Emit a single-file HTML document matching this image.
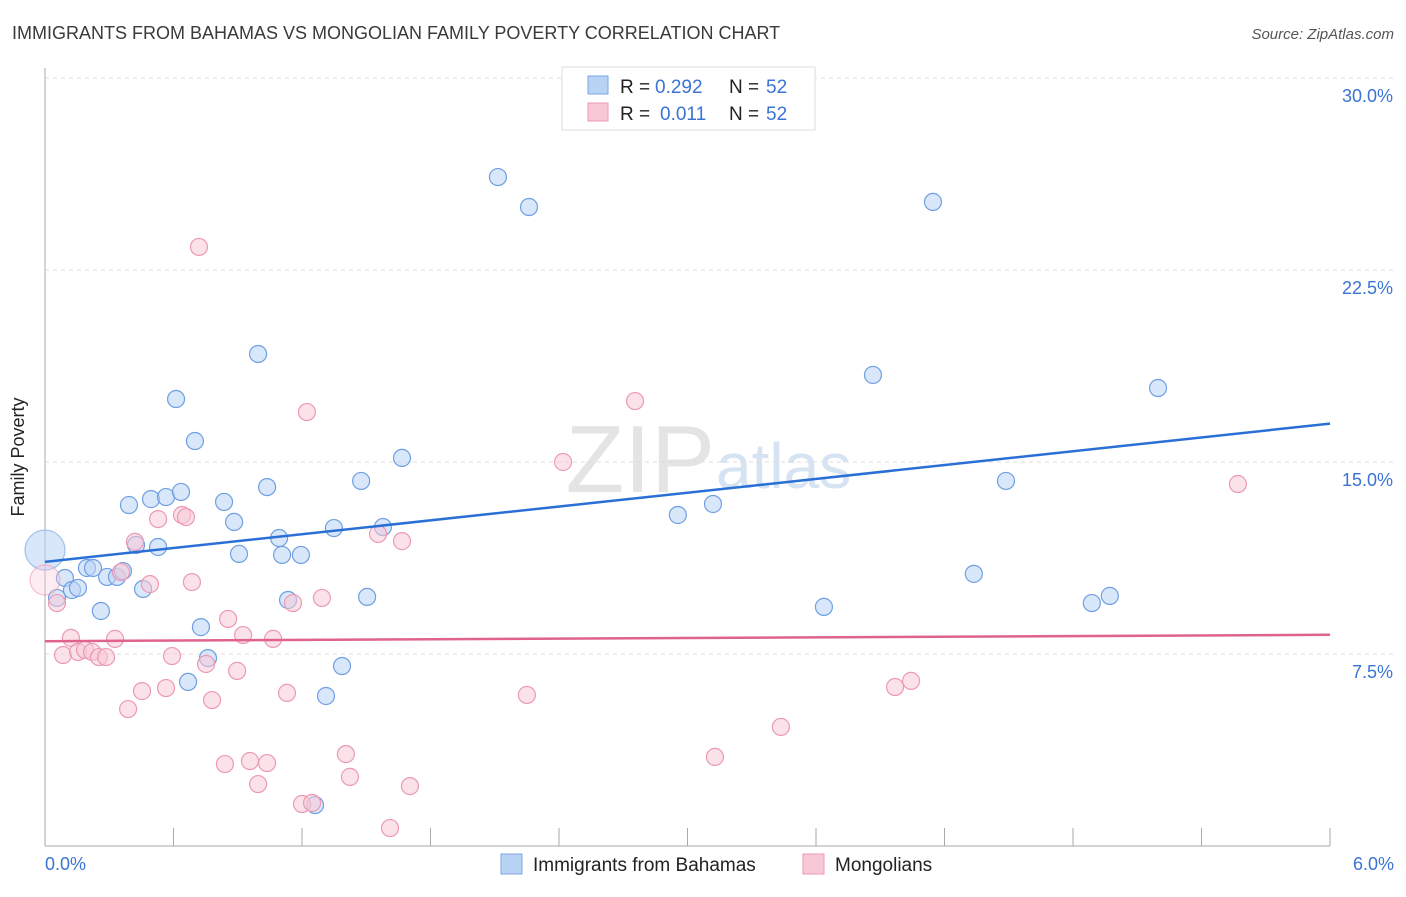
<!DOCTYPE html>
<html><head><meta charset="utf-8"><style>
body{margin:0;background:#fff;font-family:"Liberation Sans",sans-serif;}
svg text{font-family:"Liberation Sans",sans-serif;}
</style></head><body>
<svg width="1406" height="892" viewBox="0 0 1406 892" id="chart">
<text x="12" y="39" font-size="18" fill="#3a3a3a">IMMIGRANTS FROM BAHAMAS VS MONGOLIAN FAMILY POVERTY CORRELATION CHART</text>
<text x="1394" y="39" font-size="15" fill="#555" font-style="italic" text-anchor="end">Source: ZipAtlas.com</text>
<text x="715" y="492" font-size="96" fill="#e4e4e4" text-anchor="end" font-family="Liberation Serif">ZIP</text>
<text x="716" y="488" font-size="64" fill="#d6e3f3">atlas</text>
<g id="grid"></g>
<line x1="45" y1="68" x2="45" y2="846" stroke="#aaa"/>
<line x1="45" y1="846" x2="1330" y2="846" stroke="#aaa"/>
<g id="xticks"></g>
<text x="24" y="457" font-size="18" fill="#222" text-anchor="middle" transform="rotate(-90 24 457)">Family Poverty</text>
<text x="45" y="870" font-size="18" fill="#3a74d4">0.0%</text>
<text x="1394" y="870" font-size="18" fill="#3a74d4" text-anchor="end">6.0%</text>
<g id="pts"></g>
<g id="lines"></g>
<g>
<rect x="562" y="67" width="253" height="63" fill="#fff" stroke="#ddd"/>
<rect x="588" y="76" width="20" height="18" fill="#b9d3f5" stroke="#7aa6e6"/>
<rect x="588" y="103" width="20" height="18" fill="#f8c8d6" stroke="#ec9ab3"/>
<text x="620" y="93" font-size="19" fill="#222">R =</text>
<text x="655" y="93" font-size="19" fill="#3a74d4">0.292</text>
<text x="729" y="93" font-size="19" fill="#222">N =</text>
<text x="766" y="93" font-size="19" fill="#3a74d4">52</text>
<text x="620" y="120" font-size="19" fill="#222">R =</text>
<text x="660" y="120" font-size="19" fill="#3a74d4">0.011</text>
<text x="729" y="120" font-size="19" fill="#222">N =</text>
<text x="766" y="120" font-size="19" fill="#3a74d4">52</text>
</g>
<g>
<rect x="501" y="854" width="21" height="20" fill="#b9d3f5" stroke="#7aa6e6"/>
<text x="533" y="871" font-size="19" fill="#222">Immigrants from Bahamas</text>
<rect x="803" y="854" width="21" height="20" fill="#f8c8d6" stroke="#ec9ab3"/>
<text x="835" y="871" font-size="19" fill="#222">Mongolians</text>
</g>
</svg>
<script>
const yTicks=[7.5,15,22.5,30];
const yTickLabels=["7.5%","15.0%","22.5%","30.0%"];
const xTicks=[0.6,1.2,1.8,2.4,3.0,3.6,4.2,4.8,5.4,6.0];
const blueX=[0,0.093,0.056,0.126,0.154,0.196,0.224,0.261,0.29,0.336,0.364,0.392,0.425,0.458,0.495,0.528,0.565,0.612,0.635,0.7,0.728,0.761,0.668,0.836,0.883,0.906,0.995,1.037,1.093,1.107,1.135,1.195,1.261,1.312,1.349,1.387,1.476,1.504,1.578,1.667,2.115,2.26,2.955,3.119,3.637,3.866,4.146,4.337,4.487,4.888,4.972,5.197];
const blueY=[11.56,10.47,9.69,10.0,10.08,10.86,10.86,9.18,10.51,10.51,10.74,13.32,11.76,10.04,13.55,11.68,13.63,17.46,13.83,15.82,8.55,7.34,6.41,13.44,12.66,11.41,19.22,14.02,12.03,11.37,9.61,11.37,1.6,5.86,12.42,7.03,14.26,9.73,12.46,15.16,26.13,24.96,12.93,13.36,9.34,18.4,25.16,10.63,14.26,9.49,9.77,17.89];
const pinkX=[0,0.056,0.084,0.121,0.154,0.187,0.22,0.252,0.285,0.327,0.355,0.388,0.42,0.453,0.49,0.528,0.565,0.593,0.64,0.658,0.686,0.719,0.752,0.78,0.84,0.855,0.897,0.925,0.957,0.995,1.037,1.065,1.13,1.158,1.2,1.223,1.247,1.293,1.405,1.424,1.555,1.611,1.667,1.704,2.25,2.419,2.755,3.128,3.436,3.969,4.044,5.57];
const pinkY=[10.39,9.49,7.46,8.13,7.58,7.66,7.58,7.38,7.38,8.09,10.7,5.35,11.88,6.05,10.23,12.77,6.17,7.42,12.93,12.85,10.31,23.4,7.11,5.7,3.2,8.87,6.84,8.24,3.32,2.42,3.24,8.09,5.98,9.49,1.64,16.95,1.68,9.69,3.59,2.7,12.19,0.7,11.91,2.34,5.9,15.0,17.38,3.48,4.65,6.21,6.45,14.14];
const blueTrend=[11.1,16.5];
const pinkTrend=[8.0,8.25];
const NS="http://www.w3.org/2000/svg";
const xs=v=>45+v/6*1285;
const ys=v=>846-v/30*768;
function mk(t,a,p){const e=document.createElementNS(NS,t);for(const k in a)e.setAttribute(k,a[k]);p.appendChild(e);return e;}
const grid=document.getElementById('grid');
yTicks.forEach((t,i)=>{
  const l=mk('line',{x1:45,x2:1394,y1:ys(t),y2:ys(t),stroke:'#ddd','stroke-dasharray':'4,4'},grid);
  
  
  const tx=mk('text',{x:1393,y:ys(t)+24,'font-size':18,fill:'#3a74d4','text-anchor':'end'},grid);
  tx.textContent=yTickLabels[i];
  
  
});
const xt=document.getElementById('xticks');
xTicks.forEach(t=>{
  const l=mk('line',{x1:xs(t),x2:xs(t),y1:828,y2:846,stroke:'#aaa'},xt);
  
  
});
const pts=document.getElementById('pts');
function series(X,Y,fill,stroke,name,bigR,bigOp){
  X.forEach((x,i)=>{
    const c=mk('circle',{cx:xs(x),cy:ys(Y[i]),r:i===0?bigR:8.5,fill:fill,'fill-opacity':i===0?bigOp:0.55,stroke:stroke,'stroke-width':1.2,'stroke-opacity':i===0?0.6:1},pts);
    
    
  });
}
series(blueX,blueY,'#b9d3f5','#6f9fe2','bahamas-point',20,0.55);
series(pinkX,pinkY,'#f8c8d6','#ec9ab3','mongolian-point',15,0.35);
const lg=document.getElementById('lines');
const b=mk('line',{x1:xs(0),y1:ys(blueTrend[0]),x2:xs(6),y2:ys(blueTrend[1]),stroke:'#2a6fd6','stroke-width':2.5},lg);


const p=mk('line',{x1:xs(0),y1:ys(pinkTrend[0]),x2:xs(6),y2:ys(pinkTrend[1]),stroke:'#e0628e','stroke-width':2.5},lg);


</script>
</body></html>
